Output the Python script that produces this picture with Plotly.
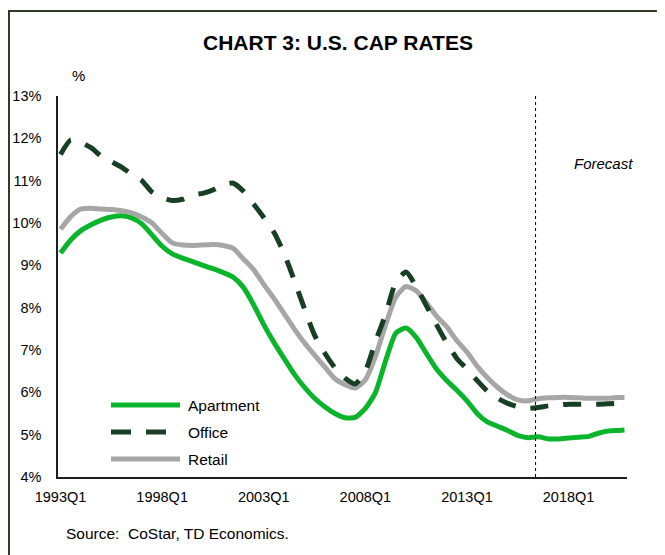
"""Chart 3: U.S. cap rates by property type, quarterly, with forecast marker."""
import plotly.graph_objects as go

# quarterly category axis 1993Q1 .. 2020Q4
QUARTERS = [f"{y}Q{q}" for y in range(1993, 2021) for q in range(1, 5)]
TICK_LABELS = ["1993Q1", "1998Q1", "2003Q1", "2008Q1", "2013Q1", "2018Q1"]
Y_TICKS = list(range(4, 14))
Y_TICK_TEXT = [f"{v}%" for v in Y_TICKS]
FORECAST_START = "2016Q3"

# readings taken every second quarter (Q1, Q3) plus the last quarter
sample_quarters = [f"{y}Q{q}" for y in range(1993, 2021) for q in (1, 3)] + ["2020Q4"]

apartment = [
    9.29, 9.6, 9.82, 9.96, 10.07, 10.14, 10.17, 10.12, 9.98, 9.72,
    9.45, 9.27, 9.17, 9.09, 9.0, 8.92, 8.83, 8.72, 8.48, 8.07,
    7.6, 7.18, 6.8, 6.43, 6.12, 5.86, 5.66, 5.5, 5.4, 5.41,
    5.62, 6.0, 6.75, 7.4, 7.52, 7.3, 6.92, 6.55, 6.28, 6.05,
    5.8, 5.5, 5.3, 5.2, 5.1, 4.98, 4.93, 4.95, 4.9, 4.9,
    4.92, 4.94, 4.96, 5.04, 5.09, 5.1,
    5.11,
]
office = [
    11.62, 11.96, 11.9, 11.78, 11.58, 11.45, 11.32, 11.15, 11.0, 10.73,
    10.6, 10.53, 10.56, 10.66, 10.7, 10.78, 10.9, 10.94, 10.75, 10.45,
    10.13, 9.78, 9.28, 8.65, 7.98, 7.35, 6.93, 6.58, 6.33, 6.2,
    6.5, 7.2, 7.85, 8.6, 8.84, 8.5, 8.05, 7.6, 7.17, 6.8,
    6.55, 6.28, 6.03, 5.86, 5.74, 5.66, 5.62, 5.64, 5.68, 5.7,
    5.72, 5.72, 5.72, 5.72, 5.73, 5.74,
    5.74,
]
retail = [
    9.85, 10.15, 10.33, 10.35, 10.33, 10.32, 10.29, 10.24, 10.14, 10.0,
    9.75, 9.53, 9.48, 9.47, 9.48, 9.49, 9.47, 9.4, 9.15, 8.9,
    8.55, 8.22, 7.86, 7.5, 7.17, 6.88, 6.6, 6.32, 6.18, 6.1,
    6.3, 6.85, 7.6, 8.25, 8.5, 8.4, 8.12, 7.8, 7.55, 7.22,
    6.95, 6.62, 6.35, 6.12, 5.94, 5.82, 5.8, 5.85, 5.87, 5.88,
    5.88, 5.87, 5.86, 5.86, 5.86, 5.88,
    5.88,
]

GREEN = "#0bb52b"
DARK_GREEN = "#183f24"
GREY = "#a6a6a6"
FONT = "Liberation Sans, Arial, sans-serif"

# the page body adds an 8px margin, so the figure is laid out 8px smaller
OFF = 8
W, H = 665 - OFF, 555 - OFF
# plot box in page pixels
PLOT_L, PLOT_R, PLOT_T, PLOT_B = 58, 627, 96, 477


def px_x(px):
    return (px - PLOT_L) / (PLOT_R - PLOT_L)


def px_y(py):
    return (PLOT_B - py) / (PLOT_B - PLOT_T)


series = [
    ("Apartment", apartment, GREEN, "solid"),
    ("Retail", retail, GREY, "solid"),
    ("Office", office, DARK_GREEN, "18px,15px"),
]

fig = go.Figure()
for name, vals, color, dash in series:
    fig.add_trace(go.Scatter(x=sample_quarters, y=vals, name=name, mode="lines",
                             line=dict(color=color, width=5, dash=dash, shape="spline", smoothing=0.6),
                             showlegend=False))

shapes = []
# outer frame
shapes.append(dict(type="rect", xref="paper", yref="paper", x0=px_x(9), x1=px_x(690),
                   y0=px_y(575), y1=px_y(11), line=dict(color="#2f3b25", width=2)))
# forecast divider
fx = QUARTERS.index(FORECAST_START) - 0.5
shapes.append(dict(type="line", xref="x", yref="paper", x0=fx, x1=fx, y0=0, y1=1,
                   line=dict(color="#000000", width=1, dash="dot")))

# hand-built legend (longer sample lines than plotly's own)
legend_rows = [("Apartment", GREEN, "solid", 405), ("Office", DARK_GREEN, "20px,15px", 432),
               ("Retail", GREY, "solid", 459)]
annotations = []
for label, color, dash, py in legend_rows:
    shapes.append(dict(type="line", xref="paper", yref="paper", x0=px_x(111), x1=px_x(180),
                       y0=px_y(py), y1=px_y(py), line=dict(color=color, width=5, dash=dash)))
    annotations.append(dict(text=label, xref="paper", yref="paper", x=px_x(186), y=px_y(py),
                            xanchor="left", yanchor="middle", showarrow=False,
                            font=dict(size=15.5, color="#000000")))

annotations += [
    dict(text="%", xref="paper", yref="paper", x=px_x(78), y=px_y(75), showarrow=False,
         xanchor="center", yanchor="middle", font=dict(size=15, color="#000000")),
    dict(text="<i>Forecast</i>", xref="paper", yref="paper", x=px_x(603), y=px_y(163),
         showarrow=False, xanchor="center", yanchor="middle", font=dict(size=15, color="#000000")),
    dict(text="Source:  CoStar, TD Economics.", xref="paper", yref="paper", x=px_x(64), y=px_y(533),
         showarrow=False, xanchor="left", yanchor="middle", font=dict(size=15.5, color="#000000")),
]

fig.update_layout(
    width=W, height=H,
    margin=dict(l=PLOT_L - OFF, r=665 - PLOT_R, t=PLOT_T - OFF, b=555 - PLOT_B),
    paper_bgcolor="white", plot_bgcolor="white",
    font=dict(family=FONT, color="#000000"),
    title=dict(text="<b>CHART 3: U.S. CAP RATES</b>", x=(338 - OFF) / W, xanchor="center",
               y=1 - (43 - OFF) / H, yanchor="middle", font=dict(size=21, color="#000000")),
    shapes=shapes, annotations=annotations, showlegend=False,
)
fig.update_xaxes(type="category", categoryorder="array", categoryarray=QUARTERS,
                 range=[-0.5, len(QUARTERS) - 0.5], tickmode="array", tickvals=TICK_LABELS,
                 ticktext=TICK_LABELS, showline=True, linecolor="#1e1e1e", linewidth=1.5,
                 ticks="", showgrid=False, zeroline=False, tickfont=dict(size=14.5),
                 ticklabelstandoff=6, automargin=False)
fig.update_yaxes(range=[4, 13], tickmode="array", tickvals=Y_TICKS, ticktext=Y_TICK_TEXT,
                 showline=True, linecolor="#1e1e1e", linewidth=1.5, ticks="", showgrid=False,
                 zeroline=False, tickfont=dict(size=14.5), ticklabelstandoff=12, automargin=False)

fig.write_html("out.html")
